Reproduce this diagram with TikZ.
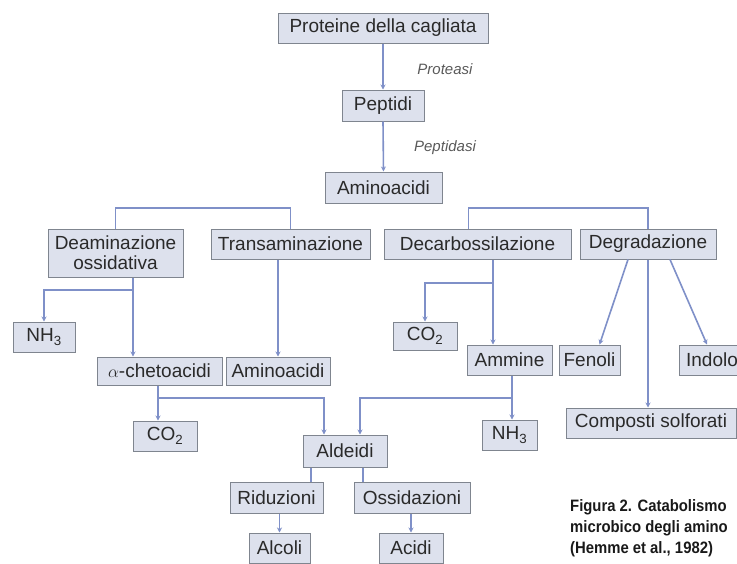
\documentclass[tikz,border=0pt]{standalone}
\usepackage{fontspec}
\setmainfont{Liberation Sans}
\newfontfamily\capfont[FakeStretch=0.9]{Liberation Sans}
\usetikzlibrary{arrows.meta}

\definecolor{boxfill}{HTML}{DDE1ED}
\definecolor{boxline}{HTML}{7F858F}
\definecolor{linkcol}{HTML}{7F90C8}
\definecolor{txtcol}{HTML}{2A2A2A}

\begin{document}
\begin{tikzpicture}
    [
        x=1pt, y=-1pt,
        >={Stealth[length=5pt, width=5pt]},
        box/.style={draw=boxline, fill=boxfill, line width=1pt, rectangle, minimum height=30pt, inner sep=0pt, text=txtcol, font=\fontsize{19}{20}\selectfont},
        flow/.style={draw=linkcol, line width=1.6pt},
        enzyme/.style={font=\fontsize{15}{17}\selectfont\itshape, text=black!65},
        caption/.style={font=\capfont\bfseries\fontsize{16.5}{20}\selectfont, anchor=base west, inner sep=0pt, text=black!90}
    ]
        \useasboundingbox (0,0) rectangle (737,563);
        \clip (0,0) rectangle (737,563);
        % =========================================================================
        % NODES
        % =========================================================================
        % --- Top chain ---
        \node [box, minimum width=210pt] (prot) at (383,28) {Proteine della cagliata};
        \node [box, minimum width=82pt, minimum height=31pt] (pept) at (383,105.5) {Peptidi};
        \node [box, minimum width=117pt, minimum height=31pt] (amino) at (383.5,187.5) {Aminoacidi};
        \node [enzyme] (protLbl) at (445,69) {Proteasi};
        \node [enzyme] (peptLbl) at (445,148) {Peptidasi};
        % --- Pathways ---
        \node [box, minimum width=135pt, minimum height=48pt, align=center] (deam) at (115.5,253) {Deaminazione\\ossidativa};
        \node [box, minimum width=159pt] (trans) at (290.5,244) {Transaminazione};
        \node [box, minimum width=187pt] (decarb) at (477.5,244) {Decarbossilazione};
        \node [box, minimum width=136pt] (degr) at (648,244) {Degradazione};
        % --- Products ---
        \node [box, minimum width=62pt] (nhA) at (44,337) {NH\textsubscript{3}};
        \node [box, minimum width=125pt, minimum height=28pt] (cheto) at (159.5,371) {$\alpha$-chetoacidi};
        \node [box, minimum width=104pt, minimum height=28pt] (aminoB) at (278,371) {Aminoacidi};
        \node [box, minimum width=64pt, minimum height=28pt] (coA) at (425,336) {CO\textsubscript{2}};
        \node [box, minimum width=85pt] (ammine) at (509.5,360) {Ammine};
        \node [box, minimum width=61pt] (fenoli) at (589.5,360) {Fenoli};
        \node [box, minimum width=66pt] (indolo) at (712,360) {Indolo};
        \node [box, minimum width=170pt] (solfo) at (651,423) {Composti solforati};
        % --- Lower part ---
        \node [box, minimum width=64pt] (coB) at (165,436) {CO\textsubscript{2}};
        \node [box, minimum width=84pt, minimum height=32pt] (ald) at (345,451) {Aldeidi};
        \node [box, minimum width=55pt] (nhB) at (509.5,435) {NH\textsubscript{3}};
        \node [box, minimum width=93pt, minimum height=31pt] (ridu) at (276.5,497.5) {Riduzioni};
        \node [box, minimum width=116pt, minimum height=31pt] (ossi) at (412,497.5) {Ossidazioni};
        \node [box, minimum width=61pt] (alcoli) at (279.5,548) {Alcoli};
        \node [box, minimum width=64pt] (acidi) at (411,548) {Acidi};
        % --- Caption ---
        \node [caption] (capA) at (570,511) {Figura 2. Catabolismo};
        \node [caption] (capB) at (570,532) {microbico degli amino};
        \node [caption] (capC) at (570,553) {(Hemme et al., 1982)};

        % =========================================================================
        % PATHS
        % =========================================================================
        \coordinate (splitL) at (200,208);
        \coordinate (splitR) at (560,208);
        \coordinate (jDeam) at (133,290);
        \coordinate (jDecarb) at (493,283);
        \coordinate (jCheto) at (158,398);
        \coordinate (jAmm) at (512,398);
        % --- Top chain ---
        \draw [flow, ->] (prot.south) -- (pept.north);
        \draw [flow, ->] (pept.south) -- (amino.north);
        % --- Brackets ---
        \draw [flow] (deam.north) |- (splitL) -| (trans.north);
        \draw [flow] ([xshift=-9pt]decarb.north) |- (splitR) -| (degr.north);
        % --- Deaminazione / Transaminazione ---
        \draw [flow, ->] (jDeam |- deam.south) -- (jDeam |- cheto.north);
        \draw [flow, ->] (jDeam) -| (nhA.north);
        \draw [flow, ->] (aminoB.north |- trans.south) -- (aminoB.north);
        % --- Decarbossilazione ---
        \draw [flow, ->] (jDecarb |- decarb.south) -- (jDecarb |- ammine.north);
        \draw [flow, ->] (jDecarb) -| (coA.north);
        % --- Degradazione ---
        \draw [flow, ->] ([xshift=-20pt]degr.south) -- ([xshift=10pt]fenoli.north);
        \draw [flow, ->] ([xshift=22pt]degr.south) -- ([xshift=-5pt]indolo.north);
        \draw [flow, ->] (degr.south) -- (degr.south |- solfo.north);
        % --- To Aldeidi ---
        \draw [flow, ->] (jCheto |- cheto.south) -- (jCheto |- coB.north);
        \draw [flow, ->] (jCheto) -| ([xshift=-21pt]ald.north);
        \draw [flow, ->] (jAmm |- ammine.south) -- (jAmm |- nhB.north);
        \draw [flow, ->] (jAmm) -| ([xshift=15pt]ald.north);
        % --- Aldeidi ---
        \draw [flow] ([xshift=-34pt]ald.south) -- ([xshift=-34pt]ald.south |- ridu.north);
        \draw [flow] ([xshift=18pt]ald.south) -- ([xshift=18pt]ald.south |- ossi.north);
        \draw [flow, ->] (alcoli.north |- ridu.south) -- (alcoli.north);
        \draw [flow, ->] (acidi.north |- ossi.south) -- (acidi.north);

    \end{tikzpicture}
\end{document}
